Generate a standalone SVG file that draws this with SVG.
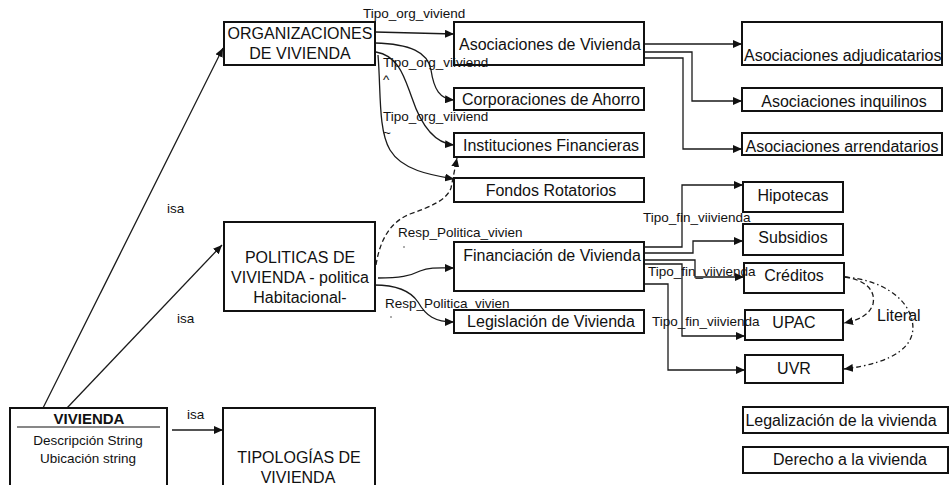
<svg xmlns="http://www.w3.org/2000/svg" width="951" height="485" viewBox="0 0 951 485">
<style>
  .box { fill: #fff; stroke: #111; stroke-width: 2; }
  .t { font-family: "Liberation Sans", Arial, sans-serif; font-size: 16px; fill: #111; }
  .c { text-anchor: middle; }
  .lbl { font-family: "Liberation Sans", Arial, sans-serif; font-size: 13.5px; fill: #111; }
  .sm { font-family: "Liberation Sans", Arial, sans-serif; font-size: 13.5px; fill: #111; text-anchor: middle; }
  .b { font-weight: bold; font-size: 15px; }
  .ln { fill: none; stroke: #1a1a1a; stroke-width: 1.3; marker-end: url(#ah); }
  .dash { stroke-dasharray: 5 3; }
  .dd { stroke-dasharray: 5 3 1.5 3; }
</style>
<defs>
  <marker id="ah" viewBox="0 0 9 8" refX="9" refY="4" markerWidth="9" markerHeight="8" markerUnits="userSpaceOnUse" orient="auto">
    <path d="M0,0 L9,4 L0,8 z" fill="#111"/>
  </marker>
</defs>
<rect width="951" height="485" fill="#fff"/>

<g id="connectors">
  <!-- isa -->
  <path class="ln" d="M43,408 L223,48"/>
  <path class="ln" d="M67,408 L222,245"/>
  <path class="ln" d="M172,430 L223,430"/>
  <!-- ORGANIZACIONES -->
  <path class="ln" d="M375,32 L454,34"/>
  <path class="ln" d="M375,43 C410,44 428,52 431,70 C434,90 440,99 454,100"/>
  <path class="ln" d="M376,52 C400,56 405,80 412,98 C420,122 432,143 454,145"/>
  <path class="ln" d="M378,55 C381,90 378,130 390,150 C402,170 430,175 454,179"/>
  <!-- POLITICAS -->
  <path class="ln dash" d="M376,265 C380,240 390,222 410,214 C430,207 447,200 451,188 L457,158"/>
  <path class="ln" d="M378,278 C400,278 410,276 420,271 C430,267 440,268 454,268"/>
  <path class="ln" d="M374,285 C395,285 410,290 418,302 C426,316 435,322 454,322"/>
  <!-- Asociaciones de Vivienda -->
  <path class="ln" d="M644,44 L742,44"/>
  <path class="ln" d="M644,52 L692,52 L692,101 L742,101"/>
  <path class="ln" d="M644,58 L683,58 L683,149 L742,149"/>
  <!-- Financiacion -->
  <path class="ln" d="M645,247 L682,247 L682,185 L743,185"/>
  <path class="ln" d="M645,253 L693,253 L693,241 L743,241"/>
  <path class="ln" d="M645,260 L695,260 L695,277 L744,277"/>
  <path class="ln" d="M645,264 L682,264 L682,336 L745,336"/>
  <path class="ln" d="M645,284 L668,284 L668,370 L745,370"/>
  <!-- Literal -->
  <path class="ln dash" d="M845,277 C865,280 876,290 873,304 C869,316 858,320 844,323"/>
  <path class="ln dd" d="M845,277 C880,280 906,296 912,320 C918,345 895,363 844,369"/>
</g>

<g id="organizaciones">
  <rect class="box" x="224" y="22" width="151" height="43"/>
  <text class="t c" x="300" y="39">ORGANIZACIONES</text>
  <text class="t c" x="300" y="59">DE VIVIENDA</text>
</g>
<g id="asoc-vivienda">
  <rect class="box" x="454" y="22" width="190" height="43"/>
  <text class="t c" x="550" y="50">Asociaciones de Vivienda</text>
</g>
<g id="corporaciones">
  <rect class="box" x="454" y="88" width="190" height="22"/>
  <text class="t c" x="551" y="105">Corporaciones de Ahorro</text>
</g>
<g id="instituciones">
  <rect class="box" x="454" y="133" width="190" height="24"/>
  <text class="t c" x="551" y="151">Instituciones Financieras</text>
</g>
<g id="fondos">
  <rect class="box" x="454" y="178" width="190" height="24"/>
  <text class="t c" x="551" y="196">Fondos Rotatorios</text>
</g>
<g id="financiacion">
  <rect class="box" x="454" y="242" width="190" height="49"/>
  <text class="t c" x="552" y="261">Financiación de Vivienda</text>
</g>
<g id="legislacion">
  <rect class="box" x="454" y="310" width="190" height="23"/>
  <text class="t c" x="551" y="327">Legislación de Vivienda</text>
</g>
<g id="politicas">
  <rect class="box" x="224" y="222" width="151" height="89"/>
  <text class="t c" x="300" y="263">POLITICAS DE</text>
  <text class="t c" x="300" y="283">VIVIENDA - politica</text>
  <text class="t c" x="300" y="303">Habitacional-</text>
</g>
<g id="vivienda">
  <rect class="box" x="10" y="408" width="157" height="90"/>
  <text class="t c b" x="89" y="424">VIVIENDA</text>
  <line x1="17" y1="427" x2="160" y2="427" stroke="#111" stroke-width="1.2"/>
  <text class="sm" x="88" y="445">Descripción String</text>
  <text class="sm" x="88" y="463">Ubicación string</text>
</g>
<g id="tipologias">
  <rect class="box" x="223" y="408" width="152" height="90"/>
  <text class="t c" x="299" y="463">TIPOLOGÍAS DE</text>
  <text class="t c" x="298" y="483">VIVIENDA</text>
</g>
<g id="adjudicatarios">
  <rect class="box" x="742" y="22" width="200" height="43"/>
  <text class="t" x="744" y="61">Asociaciones adjudicatarios</text>
</g>
<g id="inquilinos">
  <rect class="box" x="742" y="88" width="200" height="23"/>
  <text class="t c" x="844" y="107">Asociaciones inquilinos</text>
</g>
<g id="arrendatarios">
  <rect class="box" x="742" y="133" width="200" height="22"/>
  <text class="t c" x="842" y="152">Asociaciones arrendatarios</text>
</g>
<g id="hipotecas">
  <rect class="box" x="743" y="182" width="100" height="30"/>
  <text class="t c" x="793" y="201">Hipotecas</text>
</g>
<g id="subsidios">
  <rect class="box" x="743" y="224" width="100" height="31"/>
  <text class="t c" x="793" y="243">Subsidios</text>
</g>
<g id="creditos">
  <rect class="box" x="744" y="263" width="100" height="30"/>
  <text class="t c" x="794" y="281">Créditos</text>
</g>
<g id="upac">
  <rect class="box" x="745" y="310" width="98" height="30"/>
  <text class="t c" x="794" y="328">UPAC</text>
</g>
<g id="uvr">
  <rect class="box" x="745" y="355" width="98" height="28"/>
  <text class="t c" x="794" y="374">UVR</text>
</g>
<g id="legalizacion">
  <rect class="box" x="743" y="407" width="205" height="26"/>
  <text class="t c" x="841" y="426">Legalización de la vivienda</text>
</g>
<g id="derecho">
  <rect class="box" x="743" y="447" width="205" height="26"/>
  <text class="t c" x="850" y="465">Derecho a la vivienda</text>
</g>

<g id="labels">
  <text class="lbl" x="187" y="419">isa</text>
  <text class="lbl" x="167" y="213">isa</text>
  <text class="lbl" x="177" y="323">isa</text>
  <text class="lbl" x="363" y="18">Tipo_org_viviend</text>
  <text class="lbl" x="383" y="67">Tipo_org_viiviend</text>
  <text class="lbl" x="383" y="121">Tipo_org_viiviend</text>
  <text class="lbl" x="383" y="84" font-size="8px">^</text>
  <text class="lbl" x="383" y="137" font-size="9px">~</text>
  <text class="lbl" x="398" y="237">Resp_Politica_vivien</text>
  <text class="lbl" x="385" y="308">Resp_Politica_vivien</text>
  <circle cx="404" cy="247" r="0.8" fill="#444"/>
  <circle cx="391" cy="317" r="0.8" fill="#444"/>
  <text class="lbl" x="643" y="222">Tipo_fin_viivienda</text>
  <text class="lbl" x="648" y="276">Tipo_fin_viivienda</text>
  <text class="lbl" x="652" y="326">Tipo_fin_viivienda</text>
  <text class="t" x="877" y="321">Literal</text>
</g>
</svg>
